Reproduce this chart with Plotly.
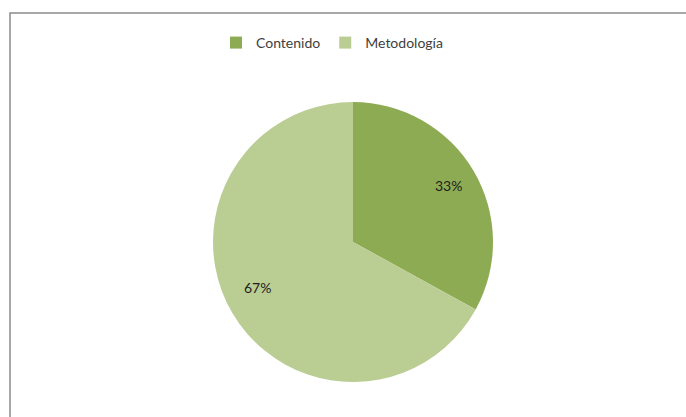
import math
import plotly.graph_objects as go

categories = ["Contenido", "Metodología"]
values = [33, 67]
colors = ["#8DAB53", "#BACD93"]

W, H = 686, 417
cx, cy, r = 353, 242, 140
FONT = "Lato, Open Sans, sans-serif"

fig = go.Figure(go.Pie(
    labels=categories,
    values=values,
    sort=False,
    direction="clockwise",
    rotation=0,
    marker=dict(colors=colors, line=dict(color="white", width=0)),
    textinfo="none",
    domain=dict(x=[(cx - r) / W, (cx + r) / W], y=[1 - (cy + r) / H, 1 - (cy - r) / H]),
    hoverinfo="label+percent",
))

# percentage labels placed like the original (about 0.79 of the radius, at slice mid-angle)
total = sum(values)
annotations = []
cum = 0
for v in values:
    mid = (cum + v / 2) / total * 2 * math.pi
    cum += v
    lx = cx + 0.79 * r * math.sin(mid)
    ly = cy - 0.79 * r * math.cos(mid)
    annotations.append(dict(
        x=lx / W, y=1 - ly / H, xref="paper", yref="paper",
        text=f"{round(100 * v / total)}%", showarrow=False,
        font=dict(family=FONT, size=14, color="#1E1E1E"),
    ))

fig.update_layout(
    width=W, height=H,
    margin=dict(l=0, r=0, t=0, b=0),
    paper_bgcolor="white",
    showlegend=True,
    legend=dict(
        orientation="h",
        x=332 / W, xanchor="center",
        y=1 - 27 / H, yanchor="top",
        font=dict(family=FONT, size=14, color="#404040"),
        itemwidth=30,
        tracegroupgap=0,
    ),
    annotations=annotations,
    shapes=[dict(type="rect", xref="paper", yref="paper",
                 x0=10 / W, y0=-0.05, x1=1.05, y1=1 - 13 / H,
                 line=dict(color="#8C8C8C", width=1.5), fillcolor="rgba(0,0,0,0)")],
)

fig.write_html("out.html", config={"displayModeBar": False},
               post_script="document.body.style.margin='0';document.body.style.overflow='hidden';")
